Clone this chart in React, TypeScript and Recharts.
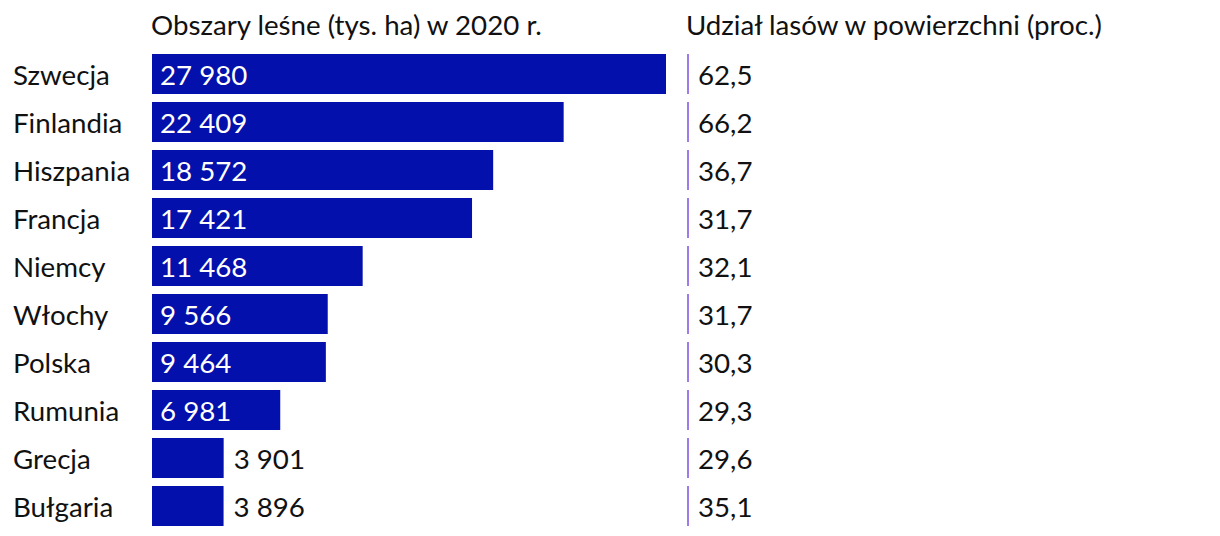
import { BarChart, Bar, XAxis, YAxis, LabelList } from "recharts";

const COUNTRIES = [
  "Szwecja", "Finlandia", "Hiszpania", "Francja", "Niemcy",
  "Włochy", "Polska", "Rumunia", "Grecja", "Bułgaria",
];
const FOREST_AREA = [27980, 22409, 18572, 17421, 11468, 9566, 9464, 6981, 3901, 3896];
const FOREST_SHARE = [62.5, 66.2, 36.7, 31.7, 32.1, 31.7, 30.3, 29.3, 29.6, 35.1];

const TITLE_AREA = "Obszary leśne (tys. ha) w 2020 r.";
const TITLE_SHARE = "Udział lasów w powierzchni (proc.)";

const data = COUNTRIES.map((country, i) => ({
  country,
  area: FOREST_AREA[i],
  share: FOREST_SHARE[i],
}));

const FONT = "Lato, 'Noto Sans', sans-serif";
const BAR_COLOR = "#0410ab";
const LINE_COLOR = "#9d7ce8";
const TEXT = "#111111";
const FS = 27.7;

const fmtThousands = (n: number) =>
  String(n).replace(/\B(?=(\d{3})+(?!\d))/g, "\u00a0");
const fmtShare = (n: number) => n.toFixed(1).replace(".", ",");

const CountryTick = ({ y, payload }: any) => (
  <text x={13} y={y} dominantBaseline="central" fontFamily={FONT} fontSize={FS} fill={TEXT}>
    {payload.value}
  </text>
);

const AreaLabel = ({ x, y, width, height, value }: any) => {
  const inside = value >= 5000;
  return (
    <text
      x={inside ? x + 8 : x + width + 10}
      y={y + height / 2}
      dominantBaseline="central"
      fontFamily={FONT}
      fontSize={FS}
      fill={inside ? "#ffffff" : TEXT}
    >
      {fmtThousands(value)}
    </text>
  );
};

// share column: only a thin marker line plus the value
const ShareShape = ({ x, y, height }: any) => (
  <rect x={x} y={y} width={2} height={height} fill={LINE_COLOR} />
);

const ShareLabel = ({ x, y, height, value }: any) => (
  <text x={x + 11} y={y + height / 2} dominantBaseline="central" fontFamily={FONT} fontSize={FS} fill={TEXT}>
    {fmtShare(value)}
  </text>
);

const titleStyle = (left: number): React.CSSProperties => ({
  position: "absolute",
  left,
  top: 10,
  fontFamily: FONT,
  fontSize: FS,
  color: TEXT,
  whiteSpace: "nowrap",
  lineHeight: "30px",
});

export default function App() {
  return (
    <div style={{ position: "relative", width: 1220, height: 536, margin: -8, background: "#fff", display: "flex" }}>
      <div style={titleStyle(151)}>{TITLE_AREA}</div>
      <div style={titleStyle(686)}>{TITLE_SHARE}</div>
      <BarChart
        width={687}
        height={536}
        data={data}
        layout="vertical"
        margin={{ top: 50, right: 21, bottom: 6, left: 0 }}
        barCategoryGap={4}
      >
        <XAxis type="number" hide domain={[0, "dataMax"]} />
        <YAxis
          type="category"
          dataKey="country"
          width={152}
          axisLine={false}
          tickLine={false}
          tick={<CountryTick />}
          interval={0}
        />
        <Bar dataKey="area" fill={BAR_COLOR} isAnimationActive={false}>
          <LabelList dataKey="area" content={<AreaLabel />} />
        </Bar>
      </BarChart>
      <BarChart
        width={533}
        height={536}
        data={data}
        layout="vertical"
        margin={{ top: 50, right: 0, bottom: 6, left: 0 }}
        barCategoryGap={4}
      >
        <XAxis type="number" hide domain={[0, 100]} />
        <YAxis type="category" dataKey="country" hide />
        <Bar dataKey="share" shape={<ShareShape />} isAnimationActive={false}>
          <LabelList dataKey="share" content={<ShareLabel />} />
        </Bar>
      </BarChart>
    </div>
  );
}
